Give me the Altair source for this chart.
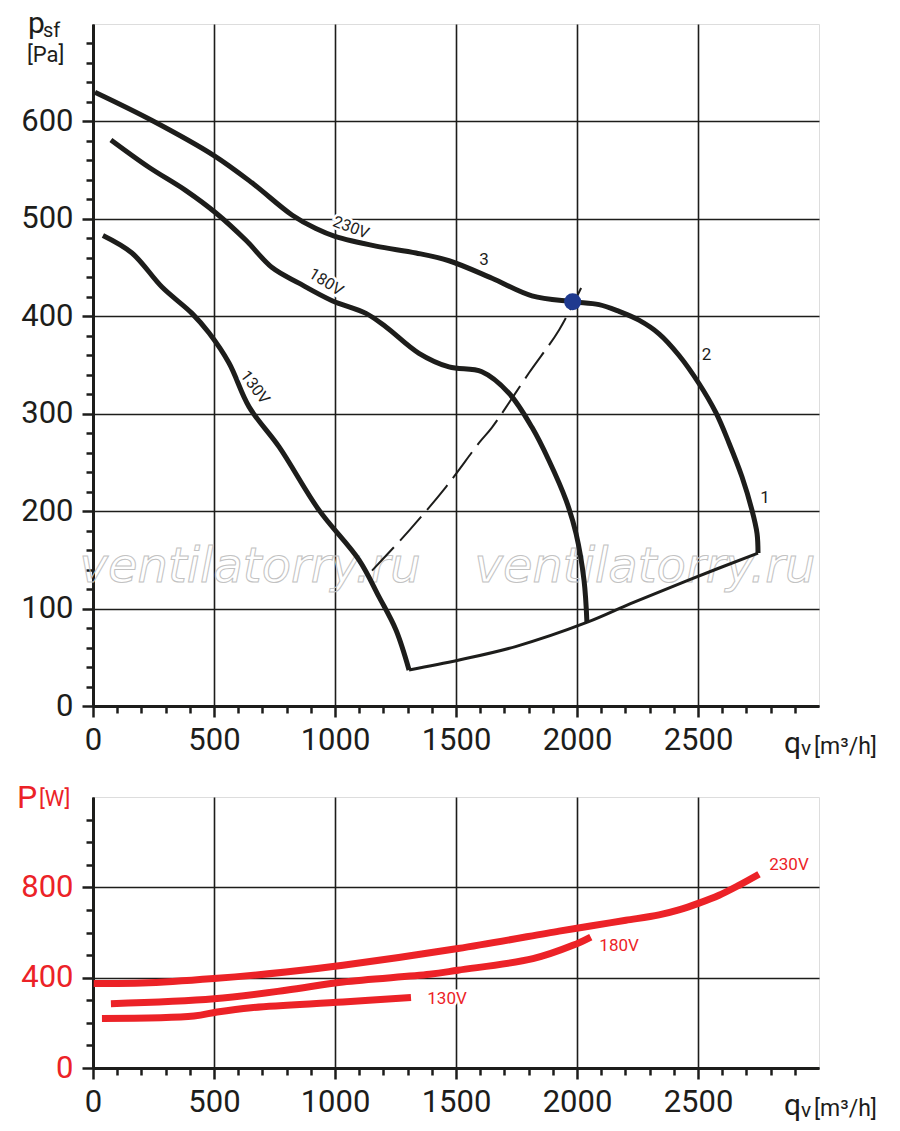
import altair as alt
import pandas as pd

# ---------------- data ----------------
# pressure curves  (q in m3/h, p in Pa)
q_230 = [8, 244, 500, 657, 822, 921, 1000, 1169, 1335, 1471, 1649, 1814, 1979, 2091, 2174, 2256, 2339, 2421, 2504, 2574, 2628, 2682, 2723, 2744, 2748]
p_230 = [630, 601, 565, 537, 504, 490, 482, 472, 465, 457, 439, 421, 415, 412, 405, 396, 382, 360, 331, 301, 270, 235, 201, 177, 157]

q_180 = [74, 231, 384, 508, 632, 740, 851, 988, 1128, 1211, 1347, 1471, 1607, 1719, 1814, 1884, 1955, 1996, 2029, 2041]
p_180 = [581, 553, 529, 506, 478, 450, 434, 416, 403, 389, 362, 348, 343, 321, 286, 252, 211, 177, 129, 86]

q_130 = [41, 161, 285, 409, 479, 562, 645, 769, 934, 1099, 1182, 1252, 1306]
p_130 = [483, 465, 430, 403, 383, 352, 307, 266, 201, 150, 112, 78, 37]

# lower boundary line
q_sys = [1306, 1509, 1746, 2043, 2221, 2458, 2748]
p_sys = [37, 47, 61, 86, 105, 129, 157]

# dashed system curve
q_dash = [1153, 1306, 1459, 1595, 1649, 1802, 1926, 2017]
p_dash = [139, 180, 225, 270, 286, 342, 386, 429]

# operating point
q_pt = [1982]
p_pt = [415]

# power curves (W)
qw_230 = [3, 204, 500, 797, 1033, 1508, 1926, 2062, 2202, 2339, 2421, 2504, 2587, 2669, 2752]
w_230 = [374, 376, 396, 425, 455, 529, 606, 630, 654, 678, 700, 730, 765, 809, 858]

qw_180 = [74, 500, 797, 1033, 1391, 1508, 1818, 1983, 2057]
w_180 = [285, 307, 344, 381, 415, 433, 484, 543, 580]

qw_130 = [37, 417, 513, 653, 1033, 1314]
w_130 = [219, 230, 248, 267, 292, 312]

# curve labels
top_labels = ["230V", "180V", "130V"]
top_label_q = [1066, 963, 669]
top_label_p = [491, 435, 327]
top_label_angle = [21, 32, 53]

num_labels = ["3", "2", "1"]
num_label_q = [1616, 2535, 2777]
num_label_p = [458, 360, 213]

pw_labels = ["230V", "180V", "130V"]
pw_label_q = [2876, 2174, 1463]
pw_label_w = [900, 541, 307]

wm_text = "ventilatorry.ru"
wm_q = [649, 2281]
wm_p = [127, 127]

x_ticks = list(range(0, 3000, 100))
y_ticks_top = list(range(0, 700, 20))
y_ticks_bot = list(range(0, 1200, 100))

# ---------------- styling ----------------
BLACK = "#1d1d1b"
RED = "#ec2227"
BLUE = "#1f3a8f"
FONT = "Roboto"
W = 726
H_TOP = 682
H_BOT = 271
CURVE = "catmull-rom"


def x_axis():
    return alt.Axis(
        values=x_ticks, format="d",
        labelExpr="datum.value % 500 === 0 ? datum.label : ''",
        tickSize={"condition": {"test": "datum.value % 500 === 0", "value": 11}, "value": 7},
        gridOpacity={"condition": {"test": "datum.value % 500 === 0", "value": 1}, "value": 0},
        grid=True, gridColor=BLACK, gridWidth=1.6,
        domainColor=BLACK, domainWidth=3, tickColor=BLACK, tickWidth=2.5,
        labelFont=FONT, labelFontSize=31, labelColor=BLACK, labelPadding=8,
        labelFlush=False, labelOverlap=False, title=None,
    )


def y_axis(vals, major, color):
    return alt.Axis(
        values=vals, format="d",
        labelExpr=f"datum.value % {major} === 0 ? datum.label : ''",
        tickSize={"condition": {"test": f"datum.value % {major} === 0", "value": 11}, "value": 7},
        gridOpacity={"condition": {"test": f"datum.value % {major} === 0", "value": 1}, "value": 0},
        grid=True, gridColor=BLACK, gridWidth=1.6,
        domainColor=BLACK, domainWidth=3, tickColor=BLACK, tickWidth=2.5,
        labelFont=FONT, labelFontSize=31, labelColor=color, labelPadding=9,
        labelFlush=False, labelOverlap=False, title=None,
    )


X = alt.X("q:Q", scale=alt.Scale(domain=[0, 3000], nice=False), axis=x_axis())
Y_TOP = alt.Y("p:Q", scale=alt.Scale(domain=[0, 700], nice=False), axis=y_axis(y_ticks_top, 100, BLACK))
Y_BOT = alt.Y("p:Q", scale=alt.Scale(domain=[0, 1200], nice=False), axis=y_axis(y_ticks_bot, 400, RED))


def series(names, qs, ps):
    rows = []
    for n, q, p in zip(names, qs, ps):
        for i, (a, b) in enumerate(zip(q, p)):
            rows.append({"s": n, "q": a, "p": b, "i": i})
    return pd.DataFrame(rows)


one = pd.DataFrame({"a": [0]})


def txt(t, x, y, size, color=BLACK):
    return alt.Chart(one).mark_text(
        text=t, font=FONT, fontSize=size, color=color, align="left", baseline="alphabetic"
    ).encode(x=alt.value(x), y=alt.value(y))


# ---------------- top chart ----------------
curves = series(["230V", "180V", "130V"], [q_230, q_180, q_130], [p_230, p_180, p_130])
sysdf = pd.DataFrame({"q": q_sys, "p": p_sys})
dashdf = pd.DataFrame({"q": q_dash, "p": p_dash})
ptdf = pd.DataFrame({"q": q_pt, "p": p_pt})
wmdf = pd.DataFrame({"q": wm_q, "p": wm_p})

watermark = alt.Chart(wmdf).mark_text(
    text=wm_text, font="DejaVu Sans", fontStyle="italic", fontSize=48,
    fillOpacity=0, stroke="#c2c2c2", strokeWidth=1, align="center", baseline="alphabetic"
).encode(x=X, y=Y_TOP)

lines_top = alt.Chart(curves).mark_line(
    color=BLACK, strokeWidth=5, interpolate=CURVE, strokeCap="butt"
).encode(x=X, y=Y_TOP, detail="s:N", order="i:Q")

sys_line = alt.Chart(sysdf).mark_line(
    color=BLACK, strokeWidth=3, interpolate=CURVE
).encode(x=X, y=Y_TOP)

dash_line = alt.Chart(dashdf).mark_line(
    color=BLACK, strokeWidth=2, strokeDash=[32, 9], interpolate=CURVE
).encode(x=X, y=Y_TOP)

point = alt.Chart(ptdf).mark_circle(color=BLUE, opacity=1, size=290).encode(x=X, y=Y_TOP)

label_layers = []
for t, q, p, a in zip(top_labels, top_label_q, top_label_p, top_label_angle):
    d = pd.DataFrame({"q": [q], "p": [p]})
    for halo in (True, False):
        label_layers.append(
            alt.Chart(d).mark_text(
                text=t, font=FONT, fontSize=16, angle=a, align="center", baseline="middle",
                color="white" if halo else BLACK,
                **({"stroke": "white", "strokeWidth": 5} if halo else {}),
            ).encode(x=X, y=Y_TOP)
        )
numdf = pd.DataFrame({"q": num_label_q, "p": num_label_p, "t": num_labels})
for halo in (True, False):
    label_layers.append(
        alt.Chart(numdf).mark_text(
            font=FONT, fontSize=17, align="center", baseline="middle",
            color="white" if halo else BLACK,
            **({"stroke": "white", "strokeWidth": 5} if halo else {}),
        ).encode(x=X, y=Y_TOP, text="t:N")
    )

titles_top = [
    txt("p", -65, 9, 30),
    txt("sf", -50, 13, 20),
    txt("[Pa]", -66, 38, 22),
    txt("q", 691, H_TOP + 47, 30),
    txt("v", 708, H_TOP + 49, 21),
    txt("[m³/h]", 721, H_TOP + 48, 23),
]

top = alt.layer(
    watermark, lines_top, sys_line, dash_line, point, *label_layers, *titles_top
).properties(width=W, height=H_TOP)

# ---------------- bottom chart ----------------
power = series(["230V", "180V", "130V"], [qw_230, qw_180, qw_130], [w_230, w_180, w_130])
lines_bot = alt.Chart(power).mark_line(
    color=RED, strokeWidth=7, interpolate=CURVE, strokeCap="butt"
).encode(x=X, y=Y_BOT, detail="s:N", order="i:Q")

pwdf = pd.DataFrame({"q": pw_label_q, "p": pw_label_w, "t": pw_labels})
pw_lab = []
for halo in (True, False):
    pw_lab.append(
        alt.Chart(pwdf).mark_text(
            font=FONT, fontSize=17, align="center", baseline="middle",
            color="white" if halo else RED,
            **({"stroke": "white", "strokeWidth": 5} if halo else {}),
        ).encode(x=X, y=Y_BOT, text="t:N")
    )

titles_bot = [
    txt("P", -76, 11, 32, RED),
    txt("[W]", -54, 9, 22, RED),
    txt("q", 691, H_BOT + 47, 30),
    txt("v", 708, H_BOT + 49, 21),
    txt("[m³/h]", 721, H_BOT + 48, 23),
]

bottom = alt.layer(lines_bot, *pw_lab, *titles_bot).properties(width=W, height=H_BOT)

chart = alt.vconcat(top, bottom, spacing=21).properties(
    padding={"left": 8, "top": 0, "right": 5, "bottom": 0}
).configure_view(
    stroke=BLACK, strokeWidth=3
).configure(background="white")

chart.save("out.html", embed_options={"renderer": "svg", "actions": False})
